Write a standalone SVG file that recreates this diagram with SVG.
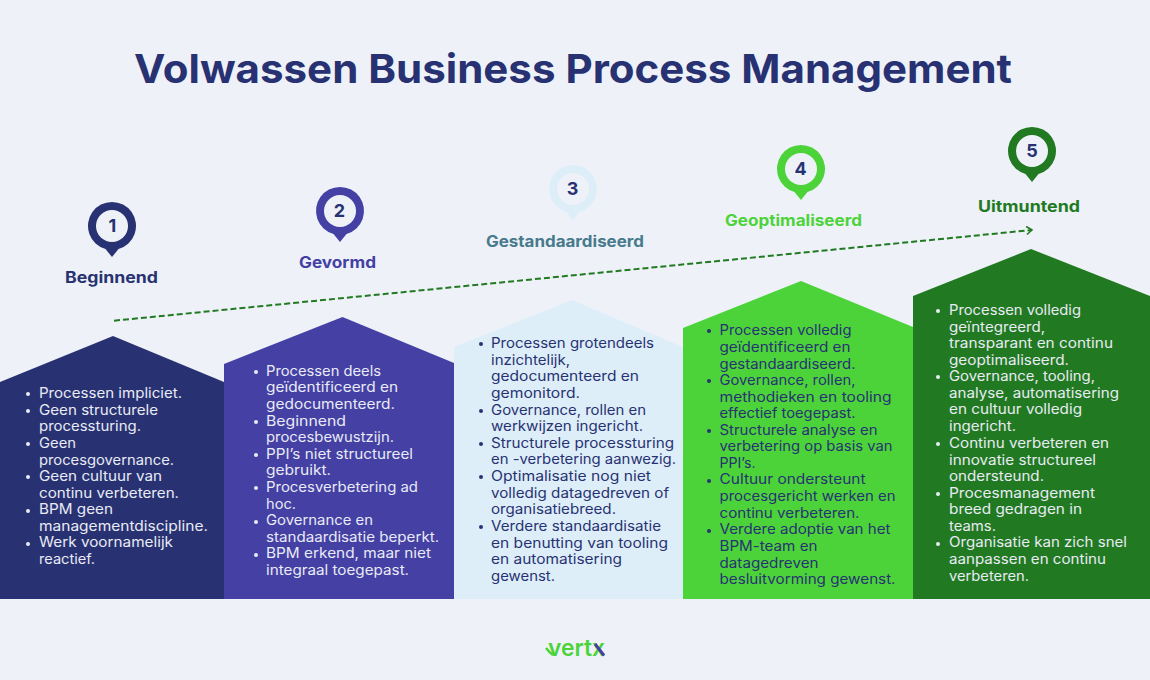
<svg xmlns="http://www.w3.org/2000/svg" width="1150" height="680" viewBox="0 0 1150 680">
<style>
text{font-family:"Inter","Liberation Sans",sans-serif}
.title{font-size:40px;font-weight:700;fill:#283272}
.name{font-size:15.5px;font-weight:700}
.num{font-size:18px;font-weight:700;fill:#283272;text-anchor:middle}
.b{font-size:14px;font-weight:400}
.w{fill:#e9ebf5}.d{fill:#283272}
.hole{fill:#eef2f8}
</style>
<defs>
<marker id="arr" markerWidth="10" markerHeight="10" refX="8.500" refY="4.500" orient="auto" markerUnits="userSpaceOnUse"><path d="M3 0.500L8.500 4.500L3 8.500" fill="none" stroke="#217a21" stroke-width="1.600"/></marker>
<circle id="dot" r="2"/>
<path id="pin" d="M0 31L-6.500 23A24 24 0 1 1 6.500 23Z"/>
</defs>
<rect width="1150" height="680" fill="#eef2f8"/>
<text class="title" x="134" y="83" textLength="878" lengthAdjust="spacingAndGlyphs">Volwassen Business Process Management</text>
<g id="connectors"><path d="M114 320.700L1032 230" fill="none" stroke="#217a21" stroke-width="2" stroke-dasharray="6 3" marker-end="url(#arr)"/></g>
<g id="node-1">
<path d="M0 382L113 336L224 382V599H0Z" fill="#283272"/>
<use href="#pin" x="112" y="226" fill="#283272"/><circle class="hole" cx="112" cy="226" r="16"/>
<text class="num" x="112.500" y="232">1</text>
<text class="name" x="65" y="283" fill="#283272" textLength="93" lengthAdjust="spacingAndGlyphs">Beginnend</text>
<g class="w">
<use href="#dot" x="28" y="394"/><text class="b" x="39" y="398" textLength="143" lengthAdjust="spacingAndGlyphs">Processen impliciet.</text>
<use href="#dot" x="28" y="411"/><text class="b" x="39" y="415" textLength="119" lengthAdjust="spacingAndGlyphs">Geen structurele</text>
<text class="b" x="39" y="431" textLength="102" lengthAdjust="spacingAndGlyphs">processturing.</text>
<use href="#dot" x="28" y="444"/><text class="b" x="39" y="448" textLength="37" lengthAdjust="spacingAndGlyphs">Geen</text>
<text class="b" x="39" y="465" textLength="135" lengthAdjust="spacingAndGlyphs">procesgovernance.</text>
<use href="#dot" x="28" y="477"/><text class="b" x="39" y="481" textLength="123" lengthAdjust="spacingAndGlyphs">Geen cultuur van</text>
<text class="b" x="39" y="498" textLength="140" lengthAdjust="spacingAndGlyphs">continu verbeteren.</text>
<use href="#dot" x="28" y="511"/><text class="b" x="39" y="514" textLength="74" lengthAdjust="spacingAndGlyphs">BPM geen</text>
<text class="b" x="39" y="531" textLength="169" lengthAdjust="spacingAndGlyphs">managementdiscipline.</text>
<use href="#dot" x="28" y="544"/><text class="b" x="39" y="547" textLength="134" lengthAdjust="spacingAndGlyphs">Werk voornamelijk</text>
<text class="b" x="39" y="564" textLength="56" lengthAdjust="spacingAndGlyphs">reactief.</text>
</g>
</g>
<g id="node-2">
<path d="M224 364L342.500 317L454 363V599H224Z" fill="#4440a4"/>
<use href="#pin" x="340" y="211" fill="#4440a4"/><circle class="hole" cx="340" cy="211" r="16"/>
<text class="num" x="339.500" y="217">2</text>
<text class="name" x="299" y="268" fill="#4440a4" textLength="77" lengthAdjust="spacingAndGlyphs">Gevormd</text>
<g class="w">
<use href="#dot" x="256" y="372"/><text class="b" x="266" y="376" textLength="115" lengthAdjust="spacingAndGlyphs">Processen deels</text>
<text class="b" x="266" y="392" textLength="132" lengthAdjust="spacingAndGlyphs">geïdentificeerd en</text>
<text class="b" x="266" y="409" textLength="129" lengthAdjust="spacingAndGlyphs">gedocumenteerd.</text>
<use href="#dot" x="256" y="422"/><text class="b" x="266" y="426" textLength="80" lengthAdjust="spacingAndGlyphs">Beginnend</text>
<text class="b" x="266" y="442" textLength="128" lengthAdjust="spacingAndGlyphs">procesbewustzijn.</text>
<use href="#dot" x="256" y="455"/><text class="b" x="266" y="459" textLength="147" lengthAdjust="spacingAndGlyphs">PPI’s niet structureel</text>
<text class="b" x="266" y="475" textLength="65" lengthAdjust="spacingAndGlyphs">gebruikt.</text>
<use href="#dot" x="256" y="488"/><text class="b" x="266" y="492" textLength="152" lengthAdjust="spacingAndGlyphs">Procesverbetering ad</text>
<text class="b" x="266" y="509" textLength="30" lengthAdjust="spacingAndGlyphs">hoc.</text>
<use href="#dot" x="256" y="522"/><text class="b" x="266" y="525" textLength="107" lengthAdjust="spacingAndGlyphs">Governance en</text>
<text class="b" x="266" y="542" textLength="173" lengthAdjust="spacingAndGlyphs">standaardisatie beperkt.</text>
<use href="#dot" x="256" y="555"/><text class="b" x="266" y="558" textLength="165" lengthAdjust="spacingAndGlyphs">BPM erkend, maar niet</text>
<text class="b" x="266" y="575" textLength="143" lengthAdjust="spacingAndGlyphs">integraal toegepast.</text>
</g>
</g>
<g id="node-3">
<path d="M454 347L572 300L683 347V599H454Z" fill="#ddeef9"/>
<use href="#pin" x="573" y="189" fill="#ddeef9"/><circle class="hole" cx="573" cy="189" r="16"/>
<text class="num" x="572.500" y="195">3</text>
<text class="name" x="486" y="247" fill="#477a8c" textLength="158" lengthAdjust="spacingAndGlyphs">Gestandaardiseerd</text>
<g class="d">
<use href="#dot" x="481" y="344"/><text class="b" x="491" y="348" textLength="163" lengthAdjust="spacingAndGlyphs">Processen grotendeels</text>
<text class="b" x="491" y="365" textLength="79" lengthAdjust="spacingAndGlyphs">inzichtelijk,</text>
<text class="b" x="491" y="381" textLength="148" lengthAdjust="spacingAndGlyphs">gedocumenteerd en</text>
<text class="b" x="491" y="398" textLength="89" lengthAdjust="spacingAndGlyphs">gemonitord.</text>
<use href="#dot" x="481" y="411"/><text class="b" x="491" y="415" textLength="155" lengthAdjust="spacingAndGlyphs">Governance, rollen en</text>
<text class="b" x="491" y="431" textLength="152" lengthAdjust="spacingAndGlyphs">werkwijzen ingericht.</text>
<use href="#dot" x="481" y="444"/><text class="b" x="491" y="448" textLength="183" lengthAdjust="spacingAndGlyphs">Structurele processturing</text>
<text class="b" x="491" y="464" textLength="185" lengthAdjust="spacingAndGlyphs">en -verbetering aanwezig.</text>
<use href="#dot" x="481" y="477"/><text class="b" x="491" y="481" textLength="160" lengthAdjust="spacingAndGlyphs">Optimalisatie nog niet</text>
<text class="b" x="491" y="498" textLength="178" lengthAdjust="spacingAndGlyphs">volledig datagedreven of</text>
<text class="b" x="491" y="514" textLength="125" lengthAdjust="spacingAndGlyphs">organisatiebreed.</text>
<use href="#dot" x="481" y="527"/><text class="b" x="491" y="531" textLength="170" lengthAdjust="spacingAndGlyphs">Verdere standaardisatie</text>
<text class="b" x="491" y="548" textLength="177" lengthAdjust="spacingAndGlyphs">en benutting van tooling</text>
<text class="b" x="491" y="564" textLength="131" lengthAdjust="spacingAndGlyphs">en automatisering</text>
<text class="b" x="491" y="581" textLength="64" lengthAdjust="spacingAndGlyphs">gewenst.</text>
</g>
</g>
<g id="node-4">
<path d="M683 328L801 281L913 327V599H683Z" fill="#4cd33a"/>
<use href="#pin" x="801" y="169" fill="#4cd33a"/><circle class="hole" cx="801" cy="169" r="16"/>
<text class="num" x="800.500" y="175">4</text>
<text class="name" x="725" y="226" fill="#4cd33a" textLength="137" lengthAdjust="spacingAndGlyphs">Geoptimaliseerd</text>
<g class="d">
<use href="#dot" x="709" y="331"/><text class="b" x="719.500" y="335" textLength="132" lengthAdjust="spacingAndGlyphs">Processen volledig</text>
<text class="b" x="719.500" y="352" textLength="131" lengthAdjust="spacingAndGlyphs">geïdentificeerd en</text>
<text class="b" x="719.500" y="369" textLength="136" lengthAdjust="spacingAndGlyphs">gestandaardiseerd.</text>
<use href="#dot" x="709" y="381"/><text class="b" x="719.500" y="385" textLength="136" lengthAdjust="spacingAndGlyphs">Governance, rollen,</text>
<text class="b" x="719.500" y="402" textLength="172" lengthAdjust="spacingAndGlyphs">methodieken en tooling</text>
<text class="b" x="719.500" y="418" textLength="136" lengthAdjust="spacingAndGlyphs">effectief toegepast.</text>
<use href="#dot" x="709" y="431"/><text class="b" x="719.500" y="435" textLength="158" lengthAdjust="spacingAndGlyphs">Structurele analyse en</text>
<text class="b" x="719.500" y="451" textLength="173" lengthAdjust="spacingAndGlyphs">verbetering op basis van</text>
<text class="b" x="719.500" y="468" textLength="36" lengthAdjust="spacingAndGlyphs">PPI’s.</text>
<use href="#dot" x="709" y="481"/><text class="b" x="719.500" y="484" textLength="146" lengthAdjust="spacingAndGlyphs">Cultuur ondersteunt</text>
<text class="b" x="719.500" y="501" textLength="176" lengthAdjust="spacingAndGlyphs">procesgericht werken en</text>
<text class="b" x="719.500" y="518" textLength="140" lengthAdjust="spacingAndGlyphs">continu verbeteren.</text>
<use href="#dot" x="709" y="531"/><text class="b" x="719.500" y="534" textLength="171" lengthAdjust="spacingAndGlyphs">Verdere adoptie van het</text>
<text class="b" x="719.500" y="551" textLength="98" lengthAdjust="spacingAndGlyphs">BPM-team en</text>
<text class="b" x="719.500" y="568" textLength="99" lengthAdjust="spacingAndGlyphs">datagedreven</text>
<text class="b" x="719.500" y="584" textLength="176" lengthAdjust="spacingAndGlyphs">besluitvorming gewenst.</text>
</g>
</g>
<g id="node-5">
<path d="M913 296L1031 249L1150 296V599H913Z" fill="#217a21"/>
<use href="#pin" x="1032" y="151" fill="#217a21"/><circle class="hole" cx="1032" cy="151" r="16"/>
<text class="num" x="1032" y="157">5</text>
<text class="name" x="978" y="212" fill="#217a21" textLength="102" lengthAdjust="spacingAndGlyphs">Uitmuntend</text>
<g class="w">
<use href="#dot" x="938" y="311"/><text class="b" x="949" y="315" textLength="132" lengthAdjust="spacingAndGlyphs">Processen volledig</text>
<text class="b" x="949" y="332" textLength="96" lengthAdjust="spacingAndGlyphs">geïntegreerd,</text>
<text class="b" x="949" y="348" textLength="164" lengthAdjust="spacingAndGlyphs">transparant en continu</text>
<text class="b" x="949" y="365" textLength="120" lengthAdjust="spacingAndGlyphs">geoptimaliseerd.</text>
<use href="#dot" x="938" y="377"/><text class="b" x="949" y="381" textLength="146" lengthAdjust="spacingAndGlyphs">Governance, tooling,</text>
<text class="b" x="949" y="398" textLength="170" lengthAdjust="spacingAndGlyphs">analyse, automatisering</text>
<text class="b" x="949" y="414" textLength="133" lengthAdjust="spacingAndGlyphs">en cultuur volledig</text>
<text class="b" x="949" y="431" textLength="67" lengthAdjust="spacingAndGlyphs">ingericht.</text>
<use href="#dot" x="938" y="444"/><text class="b" x="949" y="448" textLength="160" lengthAdjust="spacingAndGlyphs">Continu verbeteren en</text>
<text class="b" x="949" y="465" textLength="147" lengthAdjust="spacingAndGlyphs">innovatie structureel</text>
<text class="b" x="949" y="481" textLength="95" lengthAdjust="spacingAndGlyphs">ondersteund.</text>
<use href="#dot" x="938" y="494"/><text class="b" x="949" y="498" textLength="146" lengthAdjust="spacingAndGlyphs">Procesmanagement</text>
<text class="b" x="949" y="514" textLength="133" lengthAdjust="spacingAndGlyphs">breed gedragen in</text>
<text class="b" x="949" y="531" textLength="47" lengthAdjust="spacingAndGlyphs">teams.</text>
<use href="#dot" x="938" y="544"/><text class="b" x="949" y="547" textLength="178" lengthAdjust="spacingAndGlyphs">Organisatie kan zich snel</text>
<text class="b" x="949" y="564" textLength="157" lengthAdjust="spacingAndGlyphs">aanpassen en continu</text>
<text class="b" x="949" y="581" textLength="80" lengthAdjust="spacingAndGlyphs">verbeteren.</text>
</g>
</g>
<g id="logo">
<path d="M546 648Q549 652 553 655" fill="none" stroke="#4cd33a" stroke-width="2.500"/>
<text x="548" y="656" font-size="23" font-weight="600" fill="#4cd33a" textLength="57" lengthAdjust="spacingAndGlyphs">vertx</text>
<path d="M595 644L604 655.500" stroke="#4440a4" stroke-width="3"/>
</g>
</svg>
